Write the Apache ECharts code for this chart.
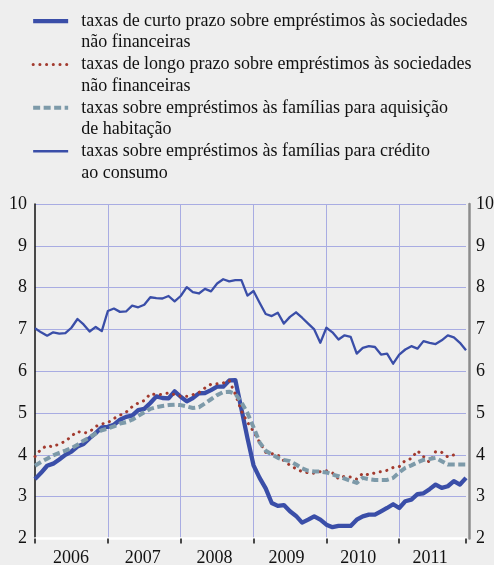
<!DOCTYPE html>
<html>
<head>
<meta charset="utf-8">
<script src="https://cdn.jsdelivr.net/npm/echarts@6/dist/echarts.min.js"></script>
<style>
  html, body { margin: 0; padding: 0; background: #eeeeee; }
  #chart { width: 494px; height: 565px; }
</style>
</head>
<body>
<div id="chart"></div>
<script>
// anos no eixo horizontal, dados mensais de jan 2006 a dez 2011
const years = ['2006', '2007', '2008', '2009', '2010', '2011']
const months = []
years.forEach((y) => {
  for (let m = 1; m <= 12; m++) months.push(y + '-' + m)
})

const yTicks = [2, 10, 1] // min, max, intervalo

// taxas de curto prazo - sociedades não financeiras
const curtoPrazo = [
  3.42, 3.57, 3.74, 3.79, 3.89, 4.00, 4.08, 4.20, 4.26, 4.40, 4.52, 4.66,
  4.67, 4.72, 4.84, 4.91, 4.94, 5.07, 5.10, 5.24, 5.40, 5.36, 5.35, 5.52,
  5.39, 5.28, 5.36, 5.47, 5.48, 5.55, 5.63, 5.63, 5.78, 5.79, 5.10, 4.40,
  3.75, 3.45, 3.20, 2.85, 2.78, 2.80, 2.65, 2.54, 2.38, 2.45, 2.53, 2.45,
  2.33, 2.27, 2.30, 2.30, 2.30, 2.45, 2.53, 2.57, 2.57, 2.65, 2.73, 2.82,
  2.73, 2.89, 2.93, 3.06, 3.08, 3.18, 3.29, 3.21, 3.25, 3.37, 3.29, 3.45
]

// taxas de longo prazo - sociedades não financeiras
const longoPrazo = [
  3.96, 4.14, 4.22, 4.19, 4.27, 4.32, 4.45, 4.56, 4.52, 4.55, 4.68, 4.74,
  4.77, 4.87, 4.95, 5.02, 5.15, 5.24, 5.30, 5.46, 5.44, 5.45, 5.48, 5.44,
  5.40, 5.40, 5.44, 5.49, 5.60, 5.69, 5.70, 5.72, 5.78, 5.45, 5.05, 4.78,
  4.56, 4.30, 4.06, 4.03, 4.00, 3.86, 3.75, 3.67, 3.60, 3.57, 3.56, 3.60,
  3.62, 3.57, 3.43, 3.49, 3.47, 3.42, 3.56, 3.52, 3.57, 3.60, 3.63, 3.70,
  3.72, 3.87, 3.91, 4.10, 3.96, 3.82, 4.08, 4.06, 3.95, 4.00, null, null
]

// famílias - aquisição de habitação
const habitacao = [
  3.74, 3.83, 3.91, 3.99, 4.05, 4.10, 4.16, 4.24, 4.34, 4.42, 4.51, 4.59,
  4.63, 4.68, 4.75, 4.78, 4.84, 4.93, 5.02, 5.10, 5.14, 5.17, 5.19, 5.20,
  5.19, 5.16, 5.12, 5.14, 5.23, 5.33, 5.43, 5.50, 5.51, 5.46, 5.26, 5.00,
  4.66, 4.30, 4.10, 4.01, 3.93, 3.88, 3.85, 3.77, 3.68, 3.62, 3.60, 3.60,
  3.58, 3.53, 3.49, 3.43, 3.38, 3.33, 3.45, 3.42, 3.40, 3.40, 3.40, 3.45,
  3.58, 3.69, 3.75, 3.82, 3.88, 3.90, 3.93, 3.85, 3.77, 3.77, 3.77, 3.77
]

// famílias - crédito ao consumo
const consumo = [
  7.03, 6.93, 6.85, 6.93, 6.90, 6.91, 7.04, 7.25, 7.12, 6.95, 7.06, 6.96,
  7.44, 7.50, 7.42, 7.43, 7.57, 7.53, 7.59, 7.77, 7.75, 7.74, 7.80, 7.67,
  7.80, 8.01, 7.89, 7.86, 7.97, 7.91, 8.10, 8.20, 8.15, 8.18, 8.18, 7.81,
  7.92, 7.64, 7.37, 7.32, 7.40, 7.14, 7.30, 7.41, 7.28, 7.14, 7.00, 6.68,
  7.04, 6.93, 6.76, 6.86, 6.82, 6.42, 6.56, 6.60, 6.58, 6.40, 6.42, 6.18,
  6.40, 6.52, 6.60, 6.54, 6.72, 6.68, 6.65, 6.74, 6.86, 6.81, 6.68, 6.50
]

const names = [
  'taxas de curto prazo sobre empréstimos às sociedades\nnão financeiras',
  'taxas de longo prazo sobre empréstimos às sociedades\nnão financeiras',
  'taxas sobre empréstimos às famílias para aquisição\nde habitação',
  'taxas sobre empréstimos às famílias para crédito\nao consumo'
]

const blue = '#3a4ea8'
const red = '#a23a2e'
const grey = '#7d9aa9'
const gridColor = '#a8ace2'
const font = 'Liberation Serif'
const LH = 21.7

const styles = [
  { color: blue, width: 4.3, type: 'solid', cap: 'butt' },
  { color: red, width: 3, type: [0.1, 6.6], cap: 'round' },
  { color: grey, width: 4, type: [7, 3.5], cap: 'butt' },
  { color: blue, width: 2.3, type: 'solid', cap: 'butt' }
]
const values = [curtoPrazo, longoPrazo, habitacao, consumo]

const chart = echarts.init(document.getElementById('chart'))

const yAxisBase = {
  type: 'value',
  min: yTicks[0],
  max: yTicks[1],
  interval: yTicks[2],
  axisTick: { show: false }
}

chart.setOption({
  backgroundColor: '#eeeeee',
  animation: false,
  legend: {
    orient: 'vertical',
    left: 31,
    top: -11.5,
    padding: 0,
    itemGap: -LH,
    itemWidth: 35,
    itemHeight: 14,
    selectedMode: false,
    // linha vazia no início para alinhar o ícone com a primeira linha
    formatter: (name) => '\n' + name,
    textStyle: {
      fontFamily: font,
      fontSize: 18,
      color: '#111',
      lineHeight: LH,
      padding: [0, 0, 0, 8]
    },
    data: names.map((n, i) => ({
      name: n,
      itemStyle: { color: 'rgba(0,0,0,0)', borderWidth: 0, opacity: 0 },
      lineStyle: {
        color: styles[i].color,
        width: styles[i].width,
        type: styles[i].type,
        cap: styles[i].cap
      }
    }))
  },
  grid: { left: 35, right: 28, top: 204, bottom: 26.5, outerBoundsMode: 'none' },
  xAxis: [
    {
      type: 'category',
      data: months,
      boundaryGap: false,
      position: 'bottom',
      axisLine: { lineStyle: { color: '#ffffff', width: 2.5 } },
      axisTick: {
        interval: (i) => i % 12 === 0 || i === months.length - 1,
        length: 5,
        lineStyle: { color: '#111', width: 1.5 }
      },
      axisLabel: { show: false },
      splitLine: {
        show: true,
        interval: (i) => i % 12 === 0 && i > 0,
        lineStyle: { color: gridColor, width: 1 }
      }
    },
    {
      type: 'category',
      data: years,
      boundaryGap: true,
      position: 'bottom',
      axisLine: { show: false },
      axisTick: { show: false },
      splitLine: { show: false },
      axisLabel: { margin: 11, fontFamily: font, fontSize: 18, color: '#111' }
    }
  ],
  yAxis: [
    Object.assign({}, yAxisBase, {
      position: 'left',
      axisLine: { show: true, lineStyle: { color: '#111', width: 1.5 } },
      axisLabel: { margin: 8, fontFamily: font, fontSize: 18, color: '#111' },
      splitLine: { show: true, lineStyle: { color: gridColor, width: 1 } }
    }),
    Object.assign({}, yAxisBase, {
      position: 'right',
      offset: 3,
      axisLine: { show: true, lineStyle: { color: '#8c8c8c', width: 2.5 } },
      axisLabel: { margin: 7, fontFamily: font, fontSize: 18, color: '#111' },
      splitLine: { show: false }
    })
  ],
  series: values.map((d, i) => ({
    name: names[i],
    type: 'line',
    data: d,
    symbol: 'none',
    showSymbol: false,
    smooth: false,
    lineStyle: {
      color: styles[i].color,
      width: styles[i].width,
      type: styles[i].type,
      cap: styles[i].cap,
      join: 'round'
    },
    itemStyle: { color: styles[i].color }
  }))
})
</script>
</body>
</html>
